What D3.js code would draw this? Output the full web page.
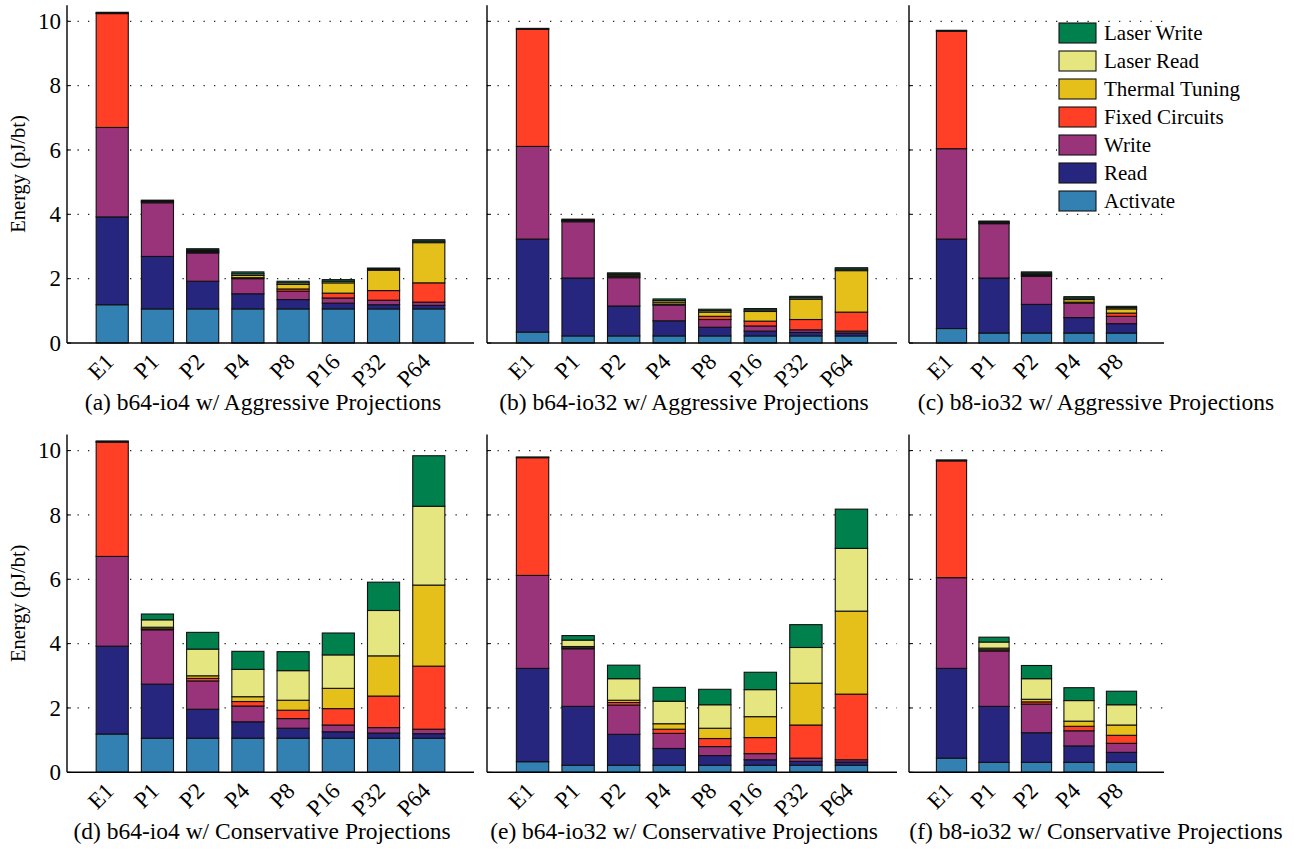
<!DOCTYPE html>
<html>
<head>
<meta charset="utf-8">
<script src="https://cdn.jsdelivr.net/npm/d3@7"></script>
<style>
  body { margin: 0; background: #fff; }
</style>
</head>
<body>
<svg id="chart" width="1294" height="850"></svg>
<script>
// categories
const cats8 = ['E1', 'P1', 'P2', 'P4', 'P8', 'P16', 'P32', 'P64']
const cats5 = ['E1', 'P1', 'P2', 'P4', 'P8']

// series, bottom to top
const seriesNames = ['Activate', 'Read', 'Write', 'Fixed Circuits', 'Thermal Tuning', 'Laser Read', 'Laser Write']
const seriesColors = ['#3380b3', '#27267f', '#99337a', '#ff4026', '#e5bf1a', '#e5e67f', '#00804d']

const yTicks = [0, 2, 4, 6, 8, 10]

// one row per series (same order as seriesNames), one column per category (pJ/bt)
const aggB64io4 = [
  [1.19, 1.06, 1.06, 1.06, 1.06, 1.06, 1.06, 1.06],
  [2.73, 1.63, 0.86, 0.47, 0.29, 0.18, 0.13, 0.11],
  [2.78, 1.67, 0.88, 0.47, 0.26, 0.16, 0.14, 0.10],
  [3.54, 0.02, 0.03, 0.03, 0.07, 0.15, 0.30, 0.60],
  [0.00, 0.02, 0.03, 0.07, 0.14, 0.32, 0.63, 1.25],
  [0.02, 0.02, 0.03, 0.05, 0.05, 0.05, 0.035, 0.045],
  [0.02, 0.02, 0.04, 0.06, 0.05, 0.05, 0.035, 0.045]
]
const aggB64io32 = [
  [0.34, 0.22, 0.22, 0.22, 0.22, 0.22, 0.22, 0.22],
  [2.89, 1.80, 0.93, 0.47, 0.27, 0.15, 0.11, 0.09],
  [2.88, 1.75, 0.88, 0.49, 0.24, 0.16, 0.08, 0.06],
  [3.64, 0.02, 0.04, 0.03, 0.10, 0.15, 0.32, 0.59],
  [0.00, 0.02, 0.04, 0.06, 0.13, 0.30, 0.63, 1.29],
  [0.015, 0.02, 0.03, 0.05, 0.045, 0.045, 0.045, 0.045],
  [0.015, 0.02, 0.04, 0.05, 0.045, 0.045, 0.045, 0.045]
]
const aggB8io32 = [
  [0.45, 0.31, 0.31, 0.31, 0.31],
  [2.78, 1.71, 0.89, 0.48, 0.29],
  [2.81, 1.69, 0.87, 0.45, 0.23],
  [3.65, 0.02, 0.03, 0.03, 0.10],
  [0.00, 0.02, 0.03, 0.08, 0.13],
  [0.015, 0.02, 0.04, 0.045, 0.04],
  [0.015, 0.02, 0.04, 0.045, 0.04]
]
const conB64io4 = [
  [1.19, 1.06, 1.06, 1.06, 1.06, 1.06, 1.06, 1.06],
  [2.73, 1.68, 0.90, 0.51, 0.31, 0.20, 0.16, 0.14],
  [2.79, 1.69, 0.88, 0.49, 0.30, 0.21, 0.17, 0.14],
  [3.55, 0.03, 0.08, 0.14, 0.26, 0.51, 0.98, 1.96],
  [0.00, 0.05, 0.08, 0.15, 0.31, 0.63, 1.25, 2.52],
  [0.02, 0.23, 0.83, 0.85, 0.92, 1.04, 1.41, 2.45],
  [0.02, 0.18, 0.52, 0.56, 0.59, 0.68, 0.88, 1.57]
]
const conB64io32 = [
  [0.33, 0.22, 0.22, 0.22, 0.22, 0.22, 0.22, 0.22],
  [2.90, 1.83, 0.96, 0.52, 0.30, 0.17, 0.12, 0.10],
  [2.89, 1.79, 0.91, 0.47, 0.28, 0.19, 0.10, 0.07],
  [3.66, 0.03, 0.08, 0.13, 0.25, 0.50, 1.03, 2.04],
  [0.00, 0.04, 0.07, 0.17, 0.32, 0.65, 1.30, 2.58],
  [0.01, 0.20, 0.67, 0.70, 0.73, 0.84, 1.11, 1.95],
  [0.01, 0.14, 0.42, 0.43, 0.48, 0.54, 0.71, 1.22]
]
const conB8io32 = [
  [0.44, 0.31, 0.31, 0.31, 0.31],
  [2.79, 1.74, 0.92, 0.51, 0.31],
  [2.82, 1.72, 0.89, 0.47, 0.28],
  [3.63, 0.04, 0.07, 0.14, 0.25],
  [0.00, 0.05, 0.08, 0.16, 0.32],
  [0.015, 0.19, 0.64, 0.64, 0.63],
  [0.015, 0.15, 0.41, 0.40, 0.42]
]

const serif = "'Liberation Serif', Tinos, 'Times New Roman', Times, 'Noto Serif', 'DejaVu Serif', FreeSerif, serif"
const svg = d3.select('#chart')

// panel layout
const panels = [
  { rows: aggB64io4, cats: cats8, x0: 67, x1: 474, base: 343, labels: true, cap: '(a) b64-io4 w/ Aggressive Projections', capX: 263 },
  { rows: aggB64io32, cats: cats8, x0: 487, x1: 897, base: 343, labels: false, cap: '(b) b64-io32 w/ Aggressive Projections', capX: 684 },
  { rows: aggB8io32, cats: cats5, x0: 909, x1: 1164, base: 343, labels: false, cap: '(c) b8-io32 w/ Aggressive Projections', capX: 1096 },
  { rows: conB64io4, cats: cats8, x0: 67, x1: 474, base: 772.3, labels: true, cap: '(d) b64-io4 w/ Conservative Projections', capX: 262 },
  { rows: conB64io32, cats: cats8, x0: 487, x1: 897, base: 772.3, labels: false, cap: '(e) b64-io32 w/ Conservative Projections', capX: 684 },
  { rows: conB8io32, cats: cats5, x0: 909, x1: 1164, base: 772.3, labels: false, cap: '(f) b8-io32 w/ Conservative Projections', capX: 1096 }
]

const unit = 32.17

panels.forEach(function (p) {
  const g = svg.append('g')
  const x = d3.scaleLinear().domain([0, p.cats.length + 1]).range([p.x0, p.x1])
  const y = d3.scaleLinear().domain([0, 10.5]).range([p.base, p.base - 10.5 * unit])
  const bw = (x(1) - x(0)) * 0.71

  // dotted grid
  g.selectAll('.grid')
    .data(yTicks.filter(function (d) { return d > 0 }))
    .enter()
    .append('line')
    .attr('x1', p.x0)
    .attr('x2', p.x1)
    .attr('y1', function (d) { return y(d) })
    .attr('y2', function (d) { return y(d) })
    .attr('stroke', '#222')
    .attr('stroke-width', 1.3)
    .attr('stroke-dasharray', '1.3,9.2')

  // small inward ticks
  g.selectAll('.tick')
    .data(yTicks)
    .enter()
    .append('line')
    .attr('x1', p.x0)
    .attr('x2', p.x0 + 4)
    .attr('y1', function (d) { return y(d) })
    .attr('y2', function (d) { return y(d) })
    .attr('stroke', '#000')

  if (p.labels) {
    g.selectAll('.ylab')
      .data(yTicks)
      .enter()
      .append('text')
      .attr('x', p.x0 - 6)
      .attr('y', function (d) { return y(d) })
      .attr('dy', '0.34em')
      .attr('text-anchor', 'end')
      .attr('font-family', serif)
      .attr('font-size', 23)
      .text(function (d) { return d })

    g.append('text')
      .attr('transform', 'translate(25,' + (p.base - 169) + ') rotate(-90)')
      .attr('text-anchor', 'middle')
      .attr('font-family', serif)
      .attr('font-size', 20.5)
      .text('Energy (pJ/bt)')
  }

  // stacked bars
  const table = p.cats.map(function (c, i) {
    const o = { cat: c, idx: i }
    seriesNames.forEach(function (s, k) { o[s] = p.rows[k][i] })
    return o
  })
  const stacked = d3.stack().keys(seriesNames)(table)

  const layer = g.selectAll('.layer')
    .data(stacked)
    .enter()
    .append('g')
    .attr('fill', function (d, k) { return seriesColors[k] })

  layer.selectAll('rect')
    .data(function (d) { return d })
    .enter()
    .append('rect')
    .attr('x', function (d) { return x(d.data.idx + 1) - bw / 2 })
    .attr('width', bw)
    .attr('y', function (d) { return y(d[1]) })
    .attr('height', function (d) { return Math.max(0, y(d[0]) - y(d[1])) })
    .attr('stroke', '#111')
    .attr('stroke-width', 1.1)

  // axes lines
  g.append('line')
    .attr('x1', p.x0).attr('x2', p.x0)
    .attr('y1', y(10.5)).attr('y2', y(0))
    .attr('stroke', '#000').attr('stroke-width', 1.4)
  g.append('line')
    .attr('x1', p.x0).attr('x2', p.x1)
    .attr('y1', y(0)).attr('y2', y(0))
    .attr('stroke', '#000').attr('stroke-width', 1.4)

  // rotated category labels
  g.selectAll('.xlab')
    .data(p.cats)
    .enter()
    .append('text')
    .attr('transform', function (d, i) {
      return 'translate(' + (x(i + 1) + 3) + ',' + (p.base + 20) + ') rotate(-45)'
    })
    .attr('text-anchor', 'end')
    .attr('font-family', serif)
    .attr('font-size', 23)
    .text(function (d) { return d })

  g.append('text')
    .attr('x', p.capX)
    .attr('y', p.base + 67)
    .attr('text-anchor', 'middle')
    .attr('font-family', serif)
    .attr('font-size', 23.5)
    .text(p.cap)
})

// legend in panel (c)
const legendX = 1059
const legendY = 23
svg.append('rect')
  .attr('x', legendX - 2)
  .attr('y', legendY - 1)
  .attr('width', 195)
  .attr('height', 190)
  .attr('fill', '#fff')

const legend = svg.append('g')
  .selectAll('.legend')
  .data(seriesNames.slice().reverse())
  .enter()
  .append('g')
  .attr('transform', function (d, i) {
    return 'translate(' + legendX + ',' + (legendY + i * 28) + ')'
  })

legend.append('rect')
  .attr('width', 37)
  .attr('height', 20)
  .attr('fill', function (d) { return seriesColors[seriesNames.indexOf(d)] })
  .attr('stroke', '#111')
  .attr('stroke-width', 1.1)

legend.append('text')
  .attr('x', 45)
  .attr('y', 10)
  .attr('dy', '0.35em')
  .attr('font-family', serif)
  .attr('font-size', 21)
  .text(function (d) { return d })
</script>
</body>
</html>
